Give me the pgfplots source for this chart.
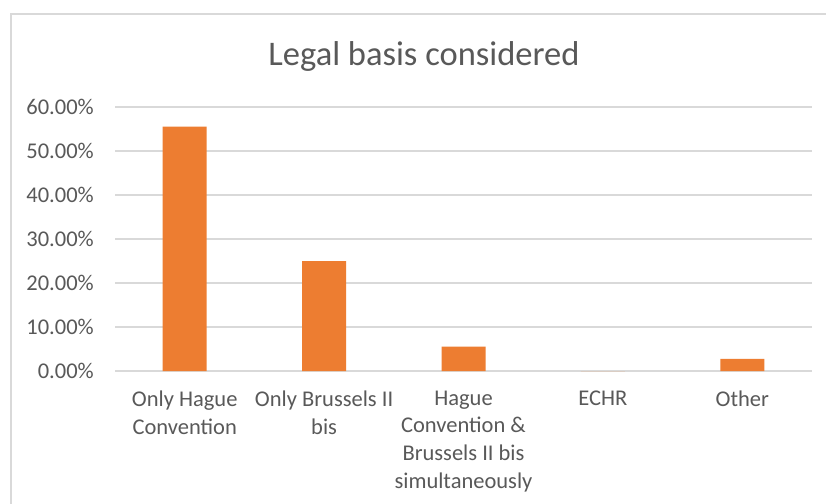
\documentclass[border=0pt]{standalone}
\usepackage{pgfplots}
\pgfplotsset{compat=1.18}
\usepackage{fontspec}
\setmainfont{Carlito}
\definecolor{barorange}{HTML}{ED7D31}
\definecolor{textgray}{HTML}{595959}
\definecolor{gridgray}{HTML}{D9D9D9}
\begin{document}
\begin{tikzpicture}
\useasboundingbox (0,0) rectangle (826bp,-504bp);
\fill[white] (0,0) rectangle (826bp,-504bp);
\draw[gridgray, line width=2bp] (11bp,-504bp) -- (11bp,-14bp) -- (826bp,-14bp);
\node[anchor=base, font=\fontsize{34.5bp}{41bp}\selectfont, text=textgray, inner sep=0pt] at (424bp,-65bp) {Legal basis considered};
\begin{axis}[
  at={(115bp,-371bp)}, anchor=south west,
  scale only axis, width=697bp, height=264bp,
  xmin=-0.5, xmax=4.5, ymin=0, ymax=60,
  axis line style={draw=none},
  major tick length=0pt,
  ymajorgrids, major grid style={draw=gridgray, line width=1.4bp},
  ytick={0,10,20,30,40,50,60},
  yticklabels={0.00\%,10.00\%,20.00\%,30.00\%,40.00\%,50.00\%,60.00\%},
  yticklabel style={font=\fontsize{22.5bp}{28bp}\selectfont, text=textgray, anchor=east, inner sep=0pt, xshift=-21bp},
  xtick={0,1,2,3,4},
  xticklabels={{Only Hague\\Convention},{Only Brussels II\\bis},{Hague\\Convention \&\\Brussels II bis\\simultaneously},{ECHR},{Other}},
  xticklabel style={font=\fontsize{22.5bp}{27.8bp}\selectfont, text=textgray, align=center, anchor=north, inner sep=0pt, yshift=-19.5bp},
  clip=false,
]
\addplot[ybar, bar width=44bp, fill=barorange, draw=none] coordinates {(0,55.56) (1,25.00) (2,5.56) (3,0) (4,2.78)};
\end{axis}
\end{tikzpicture}
\end{document}
